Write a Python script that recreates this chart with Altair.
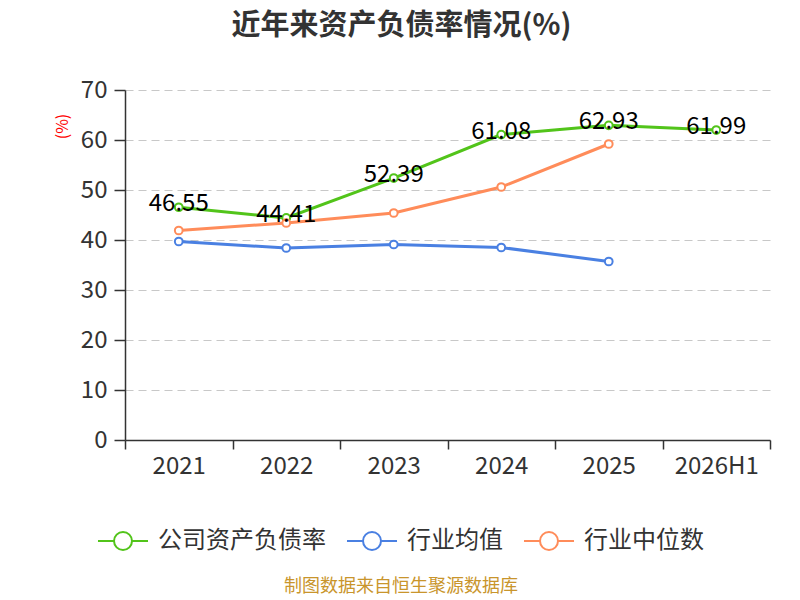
import altair as alt
import pandas as pd

years = ["2021", "2022", "2023", "2024", "2025", "2026H1"]
company = [46.55, 44.41, 52.39, 61.08, 62.93, 61.99]
ind_avg = [39.7, 38.4, 39.1, 38.5, 35.7, None]
ind_med = [41.9, 43.4, 45.4, 50.6, 59.2, None]

s_company = "公司资产负债率"
s_avg = "行业均值"
s_med = "行业中位数"
series = [s_company, s_avg, s_med]
colors = ["#52c41a", "#4a80e2", "#ff8c5a"]

rows = []
for name, vals in zip(series, [company, ind_avg, ind_med]):
    for y, v in zip(years, vals):
        if v is not None:
            rows.append({"year": y, "series": name, "value": v})
df = pd.DataFrame(rows)

FONT = "Noto Sans CJK SC"

x_enc = alt.X("year:N", sort=years, title=None,
              scale=alt.Scale(type="band", paddingInner=0, paddingOuter=0),
              axis=alt.Axis(labelAngle=0, labelFontSize=24, labelColor="#333",
                            tickBand="extent", tickSize=9, tickColor="#333",
                            tickWidth=1.5, domainColor="#333", domainWidth=1.5,
                            labelPadding=5, grid=False))
y_enc = alt.Y("value:Q", title="(%)",
              scale=alt.Scale(domain=[0, 70], nice=False),
              axis=alt.Axis(values=[0, 10, 20, 30, 40, 50, 60, 70],
                            labelFontSize=24, labelColor="#333",
                            tickSize=11, tickColor="#333", tickWidth=1.5,
                            domainColor="#333", domainWidth=1.5, labelPadding=7,
                            grid=True, gridColor="#c8c8c8", gridDash=[8, 5],
                            gridWidth=1.2,
                            titleColor="red", titleFontSize=16,
                            titleFontWeight="normal", titleX=-63, titleY=36,
                            titleAlign="center", titleBaseline="middle"))

color_enc = alt.Color("series:N",
                      scale=alt.Scale(domain=series, range=colors),
                      legend=alt.Legend(title=None, orient="none",
                                        direction="horizontal",
                                        legendX=-21, legendY=432,
                                        symbolType="M-1.39,0 L-0.5,0 M0.5,0 L1.39,0 M0.5,0 A0.5,0.5 0 1,1 -0.5,0 A0.5,0.5 0 1,1 0.5,0",
                                        symbolSize=1296, symbolStrokeWidth=2,
                                        symbolFillColor="white",
                                        labelFontSize=24, labelColor="#333",
                                        labelOffset=16, columnPadding=16,
                                        padding=0, labelLimit=400))

base = alt.Chart(df)

lines = base.mark_line(strokeWidth=3).encode(x=x_enc, y=y_enc, color=color_enc)
points = base.mark_point(filled=False, fill="white", size=60, strokeWidth=2,
                         opacity=1).encode(
    x=x_enc, y=y_enc,
    color=alt.Color("series:N", scale=alt.Scale(domain=series, range=colors),
                    legend=None))
labels = base.transform_filter(alt.datum.series == s_company).mark_text(
    fontSize=24, color="black", baseline="middle", dy=-3, font=FONT
).encode(x=x_enc, y=y_enc, text=alt.Text("value:Q", format=".2f"))

source = alt.Chart(pd.DataFrame({"t": ["制图数据来自恒生聚源数据库"]})).mark_text(
    fontSize=18, color="#c9952c", baseline="middle", align="center", font=FONT
).encode(x=alt.value(276), y=alt.value(497), text="t:N")

chart = alt.layer(lines, points, labels, source).properties(
    width=645, height=350,
    autosize=alt.AutoSizeParams(type="none"),
    padding={"left": 117, "top": 82, "right": 22, "bottom": 158},
    title=alt.TitleParams("近年来资产负债率情况(%)", fontSize=29,
                          fontWeight="bold", color="#333", anchor="middle",
                          dx=-46, offset=37, font=FONT),
).configure(font=FONT).configure_view(stroke=None)

chart.save("out.html", embed_options={"renderer": "svg", "actions": False})
